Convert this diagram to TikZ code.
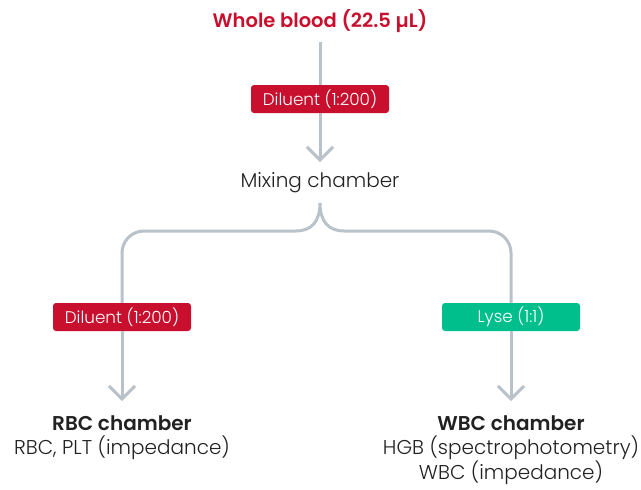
\documentclass[tikz,border=0pt]{standalone}
\usepackage{fontspec}
\setmainfont{Poppins}[UprightFont=* Light, BoldFont=* SemiBold]
\usetikzlibrary{arrows.meta}
\definecolor{bloodred}{HTML}{C8102E}
\definecolor{lysegreen}{HTML}{00BF8C}
\definecolor{flowgrey}{HTML}{B9C1C9}
\definecolor{txtdark}{HTML}{222222}
\tikzset{
  flow/.style={draw=flowgrey, line width=3pt},
  flowarrow/.style={flow, -{Straight Barb[length=13pt,width=26pt,line width=3pt]}},
  reagent/.style={fill=#1, text=white, rounded corners=3pt, minimum width=138pt,
    minimum height=28pt, inner sep=0pt, font=\fontsize{16.8}{19}\selectfont},
  chamber/.style={align=center, text=txtdark, font=\fontsize{20}{24.5}\selectfont, inner sep=0pt}
}

\begin{document}
\begin{tikzpicture}[x=1pt,y=-1pt]
\useasboundingbox (0,0) rectangle (641,490);

% Sample and first dilution
\node[text=bloodred, font=\bfseries\fontsize{19.5}{22}\selectfont, inner sep=0pt] (blood) at (320,21) {Whole blood (22.5 µL)};
\node[reagent=bloodred] (dilmix) at (320,99) {Diluent (1:200)};
\node[chamber, anchor=north] (mix) at (320,172) {Mixing chamber};
\draw[flow, shorten <=9pt] (blood) -- (dilmix);
\draw[flowarrow, shorten >=10pt] (dilmix) -- (mix);

% Split into the two chambers
\coordinate (split) at (320,203);
\coordinate (bar) at (0,231);
\coordinate (barl) at (296,231);
\coordinate (barr) at (344,231);
\node[reagent=bloodred] (dilrbc) at (122,317) {Diluent (1:200)};
\node[reagent=lysegreen] (lyse) at (511,317) {Lyse (1:1)};
\draw[flow] (barl) .. controls (311,231) and (320,222) .. (split)
  .. controls (320,222) and (329,231) .. (barr);
\draw[flow, rounded corners=22pt] (barl) -- (dilrbc.north |- bar) -- (dilrbc.north);
\draw[flow, rounded corners=22pt] (barr) -- (lyse.north |- bar) -- (lyse.north);

% Chambers
\node[chamber, anchor=north] (rbc) at (122,415) {\textbf{RBC chamber}\\RBC, PLT (impedance)};
\node[chamber, anchor=north] (wbc) at (511,415) {\textbf{WBC chamber}\\HGB (spectrophotometry)\\WBC (impedance)};
\draw[flowarrow, shorten >=14pt] (dilrbc) -- (rbc);
\draw[flowarrow, shorten >=14pt] (lyse) -- (wbc);
\end{tikzpicture}
\end{document}
